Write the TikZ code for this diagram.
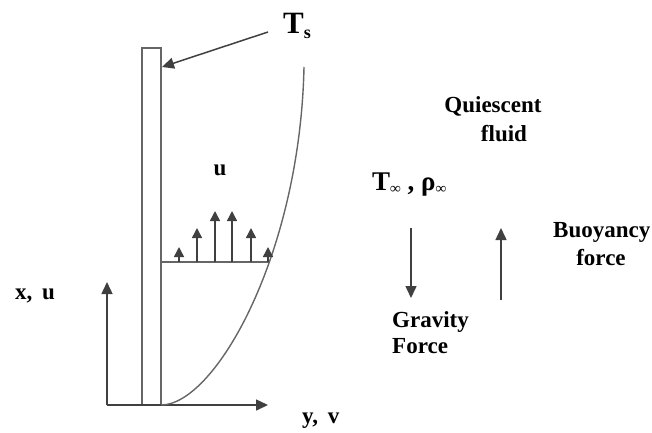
\documentclass[tikz,border=0pt]{standalone}
\usepackage{fontspec}
\setmainfont{Liberation Serif}
\usetikzlibrary{arrows.meta}
\begin{document}
\begin{tikzpicture}[x=1pt,y=-1pt,
  wall/.style={draw=black!60,line width=1.5pt},
  arr/.style={draw=black!75,line width=1.5pt,-{Triangle[length=12pt,width=11pt]}},
  parr/.style={draw=black!75,line width=1.5pt,-{Triangle[length=10pt,width=10pt]}},
  lbl/.style={inner sep=0pt,anchor=base west,font=\fontsize{23}{26}\selectfont\bfseries},
  lblc/.style={inner sep=0pt,anchor=base,font=\fontsize{23}{26}\selectfont\bfseries}]
\useasboundingbox (0,0) rectangle (652,432);
% plate
\draw[wall] (142,405) rectangle (161,48);
% axes
\coordinate (O) at (107,405);
\coordinate (xtip) at (107,282);
\coordinate (ytip) at (268,405);
\draw[arr] (O) -- (xtip);
\draw[arr] (O) -- (ytip);
% boundary layer edge
\coordinate (c0) at (161,405);
\coordinate (c1) at (304,67);
\draw[wall,line width=1.4pt] (c0) .. controls (215,405) and (300,255) .. (c1);
% velocity profile
\coordinate (b0) at (161,262);
\coordinate (b1) at (270,262);
\draw[wall,line width=1.4pt] (b0) -- (b1);
\foreach \xx/\yy [count=\i] in {179/247,197/228,215/211,232/211,251/228,268/247}{
  \coordinate (p\i) at (\xx,262);
  \coordinate (q\i) at (\xx,\yy);
  \draw[parr] (p\i) -- (q\i);
}
% Ts
\node[lbl,font=\fontsize{31}{32}\selectfont\bfseries] (Ts) at (283,33) {T{\fontsize{18}{18}\selectfont\raisebox{-5pt}{s}}};
\coordinate (tsfrom) at (268,32);
\coordinate (tsto) at (162,67);
\draw[arr] (tsfrom) -- (tsto);
% labels
\node[lblc] (u) at (220,175) {u};
\node[lbl] (xu) at (15,299) {x,\, u};
\node[lbl] (yv) at (302,423) {y,\, v};
\node[lblc] (q) at (493,112) {Quiescent};
\node[lblc] (f) at (504,141) {fluid};
\node[lbl,font=\fontsize{27}{28}\selectfont\bfseries] (Tinf) at (372,190) {T{\fontsize{15}{15}\selectfont\raisebox{-3pt}{∞}} , ρ{\fontsize{15}{15}\selectfont\raisebox{-3pt}{∞}}};
% gravity
\coordinate (g0) at (411,228);
\coordinate (g1) at (411,298);
\draw[arr] (g0) -- (g1);
\node[lbl] (grav) at (392,327) {Gravity};
\node[lbl] (gforce) at (392,353) {Force};
% buoyancy
\coordinate (bu0) at (501,300);
\coordinate (bu1) at (501,228);
\draw[arr] (bu0) -- (bu1);
\node[lbl] (buoy) at (553,237) {Buoyancy};
\node[lblc] (bforce) at (601,265) {force};
\end{tikzpicture}
\end{document}
